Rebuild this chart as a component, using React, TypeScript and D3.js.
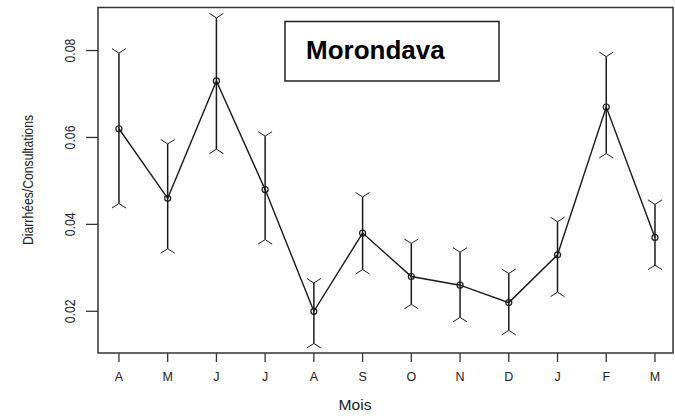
import * as d3 from "d3";

// Values (Morondava, monthly ratio with error bars)
const months = ["A", "M", "J", "J", "A", "S", "O", "N", "D", "J", "F", "M"];
const means = [0.062, 0.046, 0.073, 0.048, 0.02, 0.038, 0.028, 0.026, 0.022, 0.033, 0.067, 0.037];
const upper = [0.0794, 0.0585, 0.0875, 0.0603, 0.0265, 0.0463, 0.0356, 0.0336, 0.0287, 0.0406, 0.0786, 0.0446];
const lower = [0.0448, 0.0344, 0.0573, 0.0365, 0.0126, 0.0296, 0.0216, 0.0186, 0.0156, 0.0244, 0.0563, 0.0306];
const yTicks = [0.02, 0.04, 0.06, 0.08];

const W = 675;
const H = 416;
const frame = { left: 98, right: 673, top: 7.5, bottom: 353 };

export default function App() {
  const x = d3.scaleLinear().domain([0.57, 12.37]).range([frame.left, frame.right]);
  const y = d3.scaleLinear().domain([0.0104, 0.0899]).range([frame.bottom, frame.top]);

  const idx = months.map((_, i) => i + 1);
  const line = d3
    .line<number>()
    .x((d) => x(d))
    .y((d) => y(means[d - 1]));

  const capW = 7;
  const capH = 4.5;
  const ink = "#1a1a1a";

  return (
    <svg
      width={W}
      height={H}
      style={{ position: "absolute", left: 0, top: 0, background: "#fff" }}
      fontFamily="'Liberation Sans', Arial, sans-serif"
    >
      {/* plot frame */}
      <rect
        x={frame.left}
        y={frame.top}
        width={frame.right - frame.left}
        height={frame.bottom - frame.top}
        fill="none"
        stroke="#333"
        strokeWidth={1.5}
      />

      {/* y axis ticks + labels */}
      {yTicks.map((t) => (
        <g key={t}>
          <line x1={86} x2={frame.left} y1={y(t)} y2={y(t)} stroke="#333" strokeWidth={1.3} />
          <text
            transform={`translate(75,${y(t)}) rotate(-90)`}
            textAnchor="middle"
            fontSize={15}
            fill="#222"
            textLength={24}
            lengthAdjust="spacingAndGlyphs"
          >
            {t.toFixed(2)}
          </text>
        </g>
      ))}

      {/* x axis ticks + labels */}
      {idx.map((d, i) => (
        <g key={i}>
          <line x1={x(d)} x2={x(d)} y1={frame.bottom} y2={362} stroke="#333" strokeWidth={1.3} />
          <text x={x(d)} y={381} textAnchor="middle" fontSize={12.5} fill="#222">
            {months[i]}
          </text>
        </g>
      ))}

      {/* axis titles */}
      <text
        x={355}
        y={410}
        textAnchor="middle"
        fontSize={14}
        fill="#222"
        textLength={33}
        lengthAdjust="spacingAndGlyphs"
      >
        Mois
      </text>
      <text
        transform={`translate(33,180) rotate(-90)`}
        textAnchor="middle"
        fontSize={15}
        fill="#222"
        textLength={130}
        lengthAdjust="spacingAndGlyphs"
      >
        Diarrhées/Consultations
      </text>

      {/* error bars */}
      {idx.map((d, i) => {
        const cx = x(d);
        const yt = y(upper[i]);
        const yb = y(lower[i]);
        return (
          <g key={"e" + i} stroke={ink} fill="none">
            <line x1={cx} x2={cx} y1={yt} y2={yb} strokeWidth={1.5} />
            <path
              d={`M${cx - capW},${yt - capH}L${cx},${yt}L${cx + capW},${yt - capH}`}
              strokeWidth={1}
            />
            <path
              d={`M${cx - capW},${yb + capH}L${cx},${yb}L${cx + capW},${yb + capH}`}
              strokeWidth={1}
            />
          </g>
        );
      })}

      {/* mean line */}
      <path d={line(idx) ?? ""} fill="none" stroke={ink} strokeWidth={1.4} />
      {idx.map((d, i) => (
        <circle key={"p" + i} cx={x(d)} cy={y(means[i])} r={3} fill="none" stroke={ink} strokeWidth={1.2} />
      ))}

      {/* title box */}
      <rect x={285} y={21.5} width={214} height={59.5} fill="#fff" stroke="#222" strokeWidth={1.5} />
      <text x={306} y={58.5} fontSize={26} fontWeight="bold" fill="#000">
        Morondava
      </text>
    </svg>
  );
}
